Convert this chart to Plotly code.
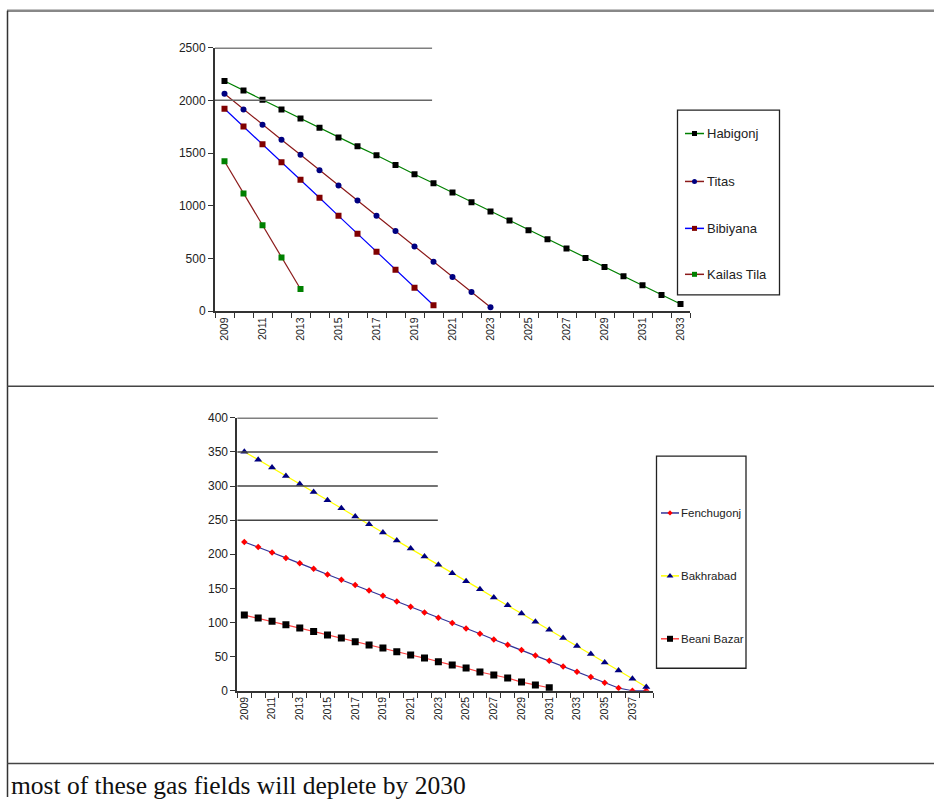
import plotly.graph_objects as go

W, H = 934, 804
# the page capture maps figure pixel y -> SY * y + OY (measured); compensate so marks land where intended
SY, OY = 0.984, 5.3

# ---------------- data ----------------
years_top = list(range(2009, 2034))
habigonj = [2183, 2094, 2006, 1914, 1829, 1741, 1649, 1564, 1479, 1388, 1299, 1214, 1126,
            1034, 946, 861, 769, 684, 596, 504, 419, 331, 246, 154, 69]
titas = [2062, 1914, 1769, 1627, 1485, 1337, 1192, 1050, 905, 760, 615, 470, 325, 183, 38]
bibiyana = [1920, 1753, 1583, 1413, 1246, 1076, 905, 735, 565, 394, 224, 57]
kailas_tila = [1422, 1116, 816, 511, 211]

years_bot = list(range(2009, 2039))
fenchugonj = [218, 210.8, 202.5, 194.7, 187, 178.6, 170.3, 162.5, 154.8, 146.9, 139.1, 130.8,
              123, 114.7, 107, 99.1, 91.3, 83.5, 75.1, 67.3, 59.6, 51.7, 43.9, 35.6, 27.8,
              20, 11.7, 4, 0, 0]
bakhrabad = [350.4, 338.7, 327, 314.8, 303, 291.4, 279.2, 267.5, 255.2, 244, 231.8, 220,
             208.3, 196.6, 184.5, 172.3, 160.6, 148.9, 136.6, 125.4, 113.2, 101, 89.3, 77.2,
             65.4, 53.7, 41.4, 29.7, 17.6, 5.4]
beani_bazar = [110.8, 106.4, 102, 96.6, 91.8, 86.8, 81.5, 77.2, 71.7, 66.9, 62.5, 57.1, 52.3,
               47.9, 42.5, 37.6, 33.2, 27.4, 23, 18.6, 12.7, 8.3, 4.4]

yticks_top = [0, 500, 1000, 1500, 2000, 2500]
yticks_bot = [0, 50, 100, 150, 200, 250, 300, 350, 400]
grid_top = [2000, 2500]
grid_bot = [250, 300, 350, 400]
caption = "most of these gas fields will deplete by 2030"

# ---------------- styles ----------------
top_series = [
    ("Habigonj", habigonj, "#008000", "#000000", "square", 6),
    ("Titas", titas, "#8B1A1A", "#000080", "circle", 6),
    ("Bibiyana", bibiyana, "#0000FF", "#800000", "square", 6),
    ("Kailas Tila", kailas_tila, "#8B1A1A", "#008000", "square", 6),
]
bot_series = [
    ("Fenchugonj", fenchugonj, "#333399", "#FF0000", "diamond", 5),
    ("Bakhrabad", bakhrabad, "#FFFF00", "#000080", "triangle-up", 7),
    ("Beani Bazar", beani_bazar, "#FF4444", "#000000", "square", 7),
]

FONT = "Arial, Liberation Sans, sans-serif"
AX = "#333333"

def px_x(p):
    return p / W

def px_y(p):
    return 1 - ((p - OY) / SY) / H

fig = go.Figure()

for name, vals, lc, mc, sym, sz in top_series:
    fig.add_trace(go.Scatter(
        x=years_top[:len(vals)], y=vals, mode="lines+markers", name=name,
        line=dict(color=lc, width=1.2),
        marker=dict(color=mc, symbol=sym, size=sz, line=dict(width=0)),
        xaxis="x", yaxis="y", showlegend=False))

for name, vals, lc, mc, sym, sz in bot_series:
    fig.add_trace(go.Scatter(
        x=years_bot[:len(vals)], y=vals, mode="lines+markers", name=name,
        line=dict(color=lc, width=1.2),
        marker=dict(color=mc, symbol=sym, size=sz, line=dict(width=0)),
        xaxis="x2", yaxis="y2", showlegend=False))

# ---------------- manual legends (overlay pixel axes) ----------------
def legend(series, x_line0, x_line1, x_text, ys, fsize, box):
    for (name, vals, lc, mc, sym, sz), yy in zip(series, ys):
        fig.add_trace(go.Scatter(x=[x_line0, x_line1], y=[yy, yy], mode="lines",
                                 line=dict(color=lc, width=1.5), xaxis="x3", yaxis="y3",
                                 showlegend=False, hoverinfo="skip"))
        fig.add_trace(go.Scatter(x=[(x_line0 + x_line1) / 2], y=[yy], mode="markers",
                                 marker=dict(color=mc, symbol=sym, size=sz - 1, line=dict(width=0)),
                                 xaxis="x3", yaxis="y3", showlegend=False, hoverinfo="skip"))
        fig.add_annotation(x=x_text, y=yy, xref="x3", yref="y3", text=name, showarrow=False,
                           xanchor="left", yanchor="middle",
                           font=dict(family=FONT, size=fsize, color="#222222"))
    x0, y0, x1, y1 = box
    fig.add_shape(type="rect", xref="x3", yref="y3", x0=x0, y0=y0, x1=x1, y1=y1,
                  line=dict(color="#222222", width=1.3))

legend(top_series, 685, 704, 705, [132, 180, 227, 273], 13, (677.5, 108.5, 779.5, 293.5))
legend(bot_series, 661, 679, 679, [512, 575, 638], 11.5, (656.5, 455, 746, 667.5))

# ---------------- gridlines (partial, as in the source) ----------------
for g in grid_top:
    fig.add_shape(type="line", xref="x domain", yref="y", x0=0, x1=0.457, y0=g, y1=g,
                  line=dict(color="#000000" if g == max(grid_top) else "#666666", width=1.5))
for g in grid_bot:
    fig.add_shape(type="line", xref="x2 domain", yref="y2", x0=0, x1=0.482, y0=g, y1=g,
                  line=dict(color="#000000" if g == max(grid_bot) else "#444444", width=1.5))

# ---------------- table frame ----------------
fig.add_shape(type="line", xref="paper", yref="paper", x0=px_x(7), x1=1, y0=px_y(9), y1=px_y(9),
              line=dict(color="#888888", width=2.5))
fig.add_shape(type="line", xref="paper", yref="paper", x0=px_x(7.5), x1=px_x(7.5), y0=px_y(9), y1=0,
              line=dict(color="#333333", width=1.5))
for yy in (385, 763):
    fig.add_shape(type="line", xref="paper", yref="paper", x0=px_x(7), x1=1, y0=px_y(yy), y1=px_y(yy),
                  line=dict(color="#444444", width=1.5))

fig.add_annotation(x=px_x(9), y=px_y(785), xref="paper", yref="paper", text=caption,
                   showarrow=False, xanchor="left", yanchor="middle",
                   font=dict(family="Liberation Serif, Times New Roman, serif", size=25.5, color="#111111"))

def boundaries(years):
    return [y - 0.5 for y in years] + [years[-1] + 0.5]

xcommon = dict(showgrid=False, zeroline=False, showline=True, linecolor=AX, linewidth=2,
               ticks="", tickangle=-90, tickfont=dict(family=FONT, size=10.5, color="#222222"),
               fixedrange=True)
ycommon = dict(showgrid=False, zeroline=False, showline=True, linecolor=AX, linewidth=2,
               ticks="outside", ticklen=5, tickcolor=AX, tickwidth=1,
               tickfont=dict(family=FONT, size=12, color="#222222"), fixedrange=True)

fig.update_layout(
    width=W, height=H, margin=dict(l=0, r=0, t=0, b=0),
    paper_bgcolor="white", plot_bgcolor="rgba(0,0,0,0)",
    showlegend=False,
    xaxis=dict(domain=[px_x(215), px_x(690)], range=[years_top[0] - 0.5, years_top[-1] + 0.5],
               tickmode="array", tickvals=years_top[::2], ticktext=[str(y) for y in years_top[::2]],
               minor=dict(ticks="outside", ticklen=5, tickcolor=AX, tickwidth=1,
                          tickvals=boundaries(years_top)),
               anchor="y", **xcommon),
    yaxis=dict(domain=[px_y(310), px_y(46)], range=[0, 2500], tickmode="array",
               tickvals=yticks_top, anchor="x", **ycommon),
    xaxis2=dict(domain=[px_x(237.4), px_x(653.2)], range=[years_bot[0] - 0.5, years_bot[-1] + 0.5],
                tickmode="array", tickvals=years_bot[::2], ticktext=[str(y) for y in years_bot[::2]],
                minor=dict(ticks="outside", ticklen=5, tickcolor=AX, tickwidth=1,
                           tickvals=boundaries(years_bot)),
                anchor="y2", **xcommon),
    yaxis2=dict(domain=[px_y(690), px_y(416.7)], range=[0, 400], tickmode="array",
                tickvals=yticks_bot, anchor="x2", **ycommon),
    xaxis3=dict(domain=[0, 1], range=[0, W], visible=False, fixedrange=True, anchor="y3"),
    yaxis3=dict(domain=[0, 1], range=[H * SY + OY, OY], visible=False, fixedrange=True, anchor="x3"),
)

fig.write_html("out.html")
